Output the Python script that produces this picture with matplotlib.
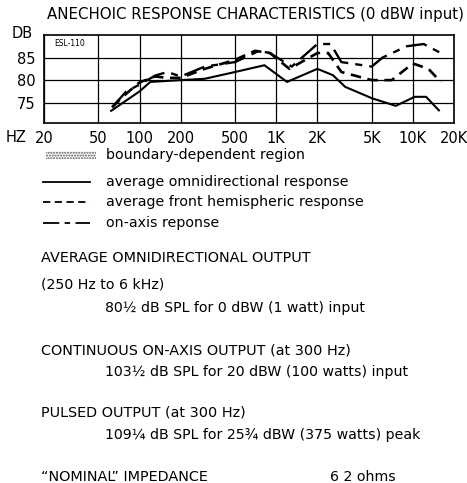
import matplotlib
matplotlib.use("Agg")
import matplotlib.pyplot as plt
from matplotlib.lines import Line2D
from matplotlib.patches import Rectangle

# response curves (Hz, dB)
omni_freq = [62, 100, 120, 200, 300, 500, 820, 1200, 2000, 2600, 3200, 3900, 5000, 7500, 10300, 12500, 15500]
omni_db = [73.2, 77.5, 79.6, 80.0, 80.3, 81.8, 83.3, 79.6, 82.5, 81.1, 78.5, 77.4, 76.0, 74.3, 76.3, 76.3, 73.3]

front_freq = [63, 80, 100, 130, 160, 200, 300, 500, 700, 900, 1250, 2000, 2400, 3000, 5000, 7000, 10000, 13000, 16000]
front_db = [74.0, 77.0, 79.5, 80.8, 80.5, 80.5, 82.5, 84.5, 86.5, 86.0, 82.5, 86.0, 86.0, 81.8, 80.0, 80.0, 83.7, 82.5, 79.6]

axis_freq = [63, 80, 100, 130, 160, 200, 300, 500, 750, 900, 1300, 2000, 2500, 3000, 5000, 6000, 9000, 12000, 16000]
axis_db = [74.0, 77.5, 79.0, 81.0, 81.8, 80.8, 83.0, 84.0, 86.5, 86.0, 83.0, 88.0, 88.0, 84.0, 83.0, 85.0, 87.5, 88.0, 86.0]

xticks = [20, 50, 100, 200, 500, 1000, 2000, 5000, 10000, 20000]
xlabels = ["20", "50", "100", "200", "500", "1K", "2K", "5K", "10K", "20K"]
yticks = [75, 80, 85]

plt.rcParams['font.family'] = ['DejaVu Sans']
W, H = 467, 483
fig = plt.figure(figsize=(W / 100, H / 100), dpi=100)


def fx(x):
    return x / W


def fy(y):
    return 1 - y / H


ax = fig.add_axes([fx(44), fy(123), fx(454) - fx(44), fy(35) - fy(123)])
ax.set_xscale('log')
ax.set_xlim(20, 20000)
ax.set_ylim(70.5, 90)
ax.minorticks_off()
ax.set_xticks(xticks)
ax.set_xticklabels(xlabels)
ax.set_yticks(yticks)
ax.tick_params(length=0, labelsize=10.5, pad=6)
for s in ax.spines.values():
    s.set_linewidth(1.2)
ax.grid(True, which='major', color='black', lw=0.9)
ax.set_axisbelow(True)

ax.plot(omni_freq, omni_db, color='black', lw=1.5)
ax.plot(front_freq, front_db, color='black', lw=1.9, linestyle=(0, (4, 2.5)))
ax.plot(axis_freq, axis_db, color='black', lw=1.7, linestyle=(0, (9, 3, 3, 3)))
ax.text(31, 88.2, "ESL-110", fontsize=5.5, ha='center', va='center')

fig.text(fx(47), fy(15), "ANECHOIC RESPONSE CHARACTERISTICS (0 dBW input)",
         fontsize=10.8, va='center')
fig.text(fx(12), fy(34), "DB", fontsize=10.5, va='center')
fig.text(fx(6), fy(137), "HZ", fontsize=10.5, va='center')

# legend
fig.add_artist(Rectangle((fx(46), fy(159)), fx(50), fy(151) - fy(159),
                         facecolor='white', edgecolor='#555555', lw=0,
                         hatch='......', transform=fig.transFigure))
rows = [
    (182, '-', "average omnidirectional response"),
    (202, (0, (4, 2.5)), "average front hemispheric response"),
    (223, (0, (9, 3, 3, 3)), "on-axis reponse"),
]
fig.text(fx(106), fy(155), "boundary-dependent region", fontsize=10.2, va='center')
for yy, ls, lab in rows:
    fig.add_artist(Line2D([fx(43), fx(90)], [fy(yy), fy(yy)], color='black',
                          lw=1.3, linestyle=ls, transform=fig.transFigure))
    fig.text(fx(106), fy(yy), lab, fontsize=10.2, va='center')

caps = [
    (41, 258, "AVERAGE OMNIDIRECTIONAL OUTPUT"),
    (41, 350, "CONTINUOUS ON-AXIS OUTPUT (at 300 Hz)"),
    (41, 413, "PULSED OUTPUT (at 300 Hz)"),
    (41, 477, "\u201cNOMINAL\u201d IMPEDANCE"),
]
lines = [
    (41, 285, "(250 Hz to 6 kHz)"),
    (105, 308, "80½ dB SPL for 0 dBW (1 watt) input"),
    (105, 372, "103½ dB SPL for 20 dBW (100 watts) input"),
    (105, 435, "109¼ dB SPL for 25¾ dBW (375 watts) peak"),
    (330, 477, "6 2 ohms"),
]
for x, y, t in caps:
    fig.text(fx(x), fy(y), t, fontsize=10.4, va='center')
for x, y, t in lines:
    fig.text(fx(x), fy(y), t, fontsize=10.2, va='center')

fig.savefig("out.png", dpi=100)
